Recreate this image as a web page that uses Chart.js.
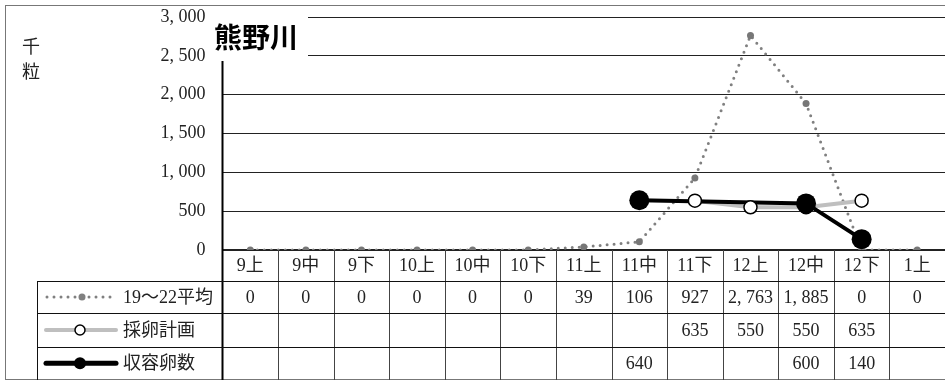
<!DOCTYPE html>
<html>
<head>
<meta charset="utf-8">
<script src="https://cdn.jsdelivr.net/npm/chart.js@4/dist/chart.umd.min.js"></script>
<style>
    html, body { margin: 0; padding: 0; background: #fff; overflow: hidden; }
    #wrap { width: 945px; height: 381px; overflow: hidden; position: relative; }
</style>
</head>
<body>
<div id="wrap">
    <canvas id="kumano-chart" width="955" height="381" style="width:955px;height:381px"></canvas>
</div>
<script>
const categories = ['9上', '9中', '9下', '10上', '10中', '10下', '11上', '11中', '11下', '12上', '12中', '12下', '1上'];
const avgValues = [0, 0, 0, 0, 0, 0, 39, 106, 927, 2763, 1885, 0, 0];
const planValues = [null, null, null, null, null, null, null, null, 635, 550, 550, 635, null];
const recvValues = [null, null, null, null, null, null, null, 640, null, null, 600, 140, null];
const seriesNames = ['19～22平均', '採卵計画', '収容卵数'];
const yTicks = [0, 500, 1000, 1500, 2000, 2500, 3000];
const title = '熊野川';
const unitLabel = ['千', '粒'];

const SERIF = '"Liberation Serif", "Noto Sans CJK JP", serif';
const GRAY = '#808080';
const LIGHT = '#bfbfbf';

function fmt(v) {
    return v.toLocaleString('en-US').replace(/,/g, ', ');
}

// table row bounds under the plot
const rowHeader = [250, 281];
const rows = [[281, 313], [313, 347], [347, 379.5]];
const legendLeft = 37;

const tablePlugin = {
    id: 'tablePlugin',
    afterDraw(chart) {
        const ctx = chart.ctx;
        const x = chart.scales.x;
        const area = chart.chartArea;
        const w = (area.right - area.left) / categories.length;
        ctx.save();

        // outer frame
        ctx.strokeStyle = '#777';
        ctx.lineWidth = 1;
        ctx.strokeRect(5.5, 5.5, 950, 374);

        // title box over gridlines
        ctx.fillStyle = '#fff';
        ctx.fillRect(209, 6, 99, 55);
        ctx.fillStyle = '#000';
        ctx.font = 'bold 28px "Noto Sans CJK JP"';
        ctx.textAlign = 'left';
        ctx.textBaseline = 'middle';
        ctx.fillText(title, 214, 37);

        // unit label
        ctx.font = '18px "Noto Sans CJK JP"';
        ctx.textAlign = 'center';
        ctx.fillStyle = '#222';
        ctx.fillText(unitLabel[0], 31, 46);
        ctx.fillText(unitLabel[1], 31, 71);

        // y axis line
        ctx.strokeStyle = '#000';
        ctx.lineWidth = 2;
        ctx.beginPath();
        ctx.moveTo(area.left, 61);
        ctx.lineTo(area.left, 380);
        ctx.stroke();

        // column separators
        ctx.strokeStyle = '#444';
        ctx.lineWidth = 1;
        for (let i = 1; i <= categories.length; i++) {
            const px = Math.round(x.getPixelForValue(i) - w / 2) + 0.5;
            ctx.beginPath();
            ctx.moveTo(px, rowHeader[0]);
            ctx.lineTo(px, 380);
            ctx.stroke();
        }

        // row lines
        ctx.strokeStyle = '#111';
        [rows[0][0], rows[1][0], rows[2][0]].forEach(y => {
            ctx.beginPath();
            ctx.moveTo(legendLeft, Math.round(y) + 0.5);
            ctx.lineTo(955, Math.round(y) + 0.5);
            ctx.stroke();
        });
        ctx.beginPath();
        ctx.moveTo(legendLeft + 0.5, rows[0][0]);
        ctx.lineTo(legendLeft + 0.5, 380);
        ctx.stroke();

        // header labels
        ctx.fillStyle = '#222';
        ctx.font = '18px ' + SERIF;
        ctx.textAlign = 'center';
        ctx.textBaseline = 'middle';
        categories.forEach((c, i) => {
            ctx.fillText(c, x.getPixelForValue(i), (rowHeader[0] + rowHeader[1]) / 2 + 1);
        });

        // values
        [avgValues, planValues, recvValues].forEach((arr, r) => {
            const cy = (rows[r][0] + rows[r][1]) / 2 + 1;
            arr.forEach((v, i) => {
                if (v === null) return;
                ctx.fillText(fmt(v), x.getPixelForValue(i), cy);
            });
        });

        // legend keys
        ctx.lineCap = 'round';
        let cy = (rows[0][0] + rows[0][1]) / 2;
        ctx.setLineDash([0, 7]);
        ctx.strokeStyle = GRAY;
        ctx.lineWidth = 3;
        ctx.beginPath();
        ctx.moveTo(47, cy);
        ctx.lineTo(116, cy);
        ctx.stroke();
        ctx.setLineDash([]);
        ctx.fillStyle = GRAY;
        ctx.beginPath();
        ctx.arc(82, cy, 3.5, 0, Math.PI * 2);
        ctx.fill();

        cy = (rows[1][0] + rows[1][1]) / 2;
        ctx.strokeStyle = LIGHT;
        ctx.lineWidth = 4;
        ctx.beginPath();
        ctx.moveTo(46, cy);
        ctx.lineTo(116, cy);
        ctx.stroke();
        ctx.fillStyle = '#fff';
        ctx.strokeStyle = '#000';
        ctx.lineWidth = 1.5;
        ctx.beginPath();
        ctx.arc(80, cy, 5, 0, Math.PI * 2);
        ctx.fill();
        ctx.stroke();

        cy = (rows[2][0] + rows[2][1]) / 2;
        ctx.strokeStyle = '#000';
        ctx.lineWidth = 5;
        ctx.beginPath();
        ctx.moveTo(46, cy);
        ctx.lineTo(116, cy);
        ctx.stroke();
        ctx.fillStyle = '#000';
        ctx.beginPath();
        ctx.arc(80, cy, 6, 0, Math.PI * 2);
        ctx.fill();

        ctx.fillStyle = '#222';
        ctx.font = '18px ' + SERIF;
        ctx.textAlign = 'left';
        seriesNames.forEach((n, r) => {
            ctx.fillText(n, 123, (rows[r][0] + rows[r][1]) / 2 + 1);
        });

        ctx.restore();
    }
};

const data = {
    labels: categories,
    datasets: [
        // markers drawn above all lines (lower order = on top)
        {data: recvValues, order: 0, showLine: false, pointRadius: 10, pointBackgroundColor: '#000', pointBorderColor: '#000', pointBorderWidth: 0},
        {data: planValues, order: 1, showLine: false, pointRadius: 6.5, pointBackgroundColor: '#fff', pointBorderColor: '#000', pointBorderWidth: 1.5},
        {data: avgValues, order: 2, showLine: false, pointRadius: 3.5, pointBackgroundColor: '#777', pointBorderColor: '#777', pointBorderWidth: 0},
        {data: recvValues, order: 3, borderColor: '#000', borderWidth: 4, pointRadius: 0, spanGaps: true, fill: false, tension: 0},
        {data: planValues, order: 4, borderColor: LIGHT, borderWidth: 4, pointRadius: 0, spanGaps: true, fill: false, tension: 0},
        {data: avgValues, order: 5, borderColor: GRAY, borderWidth: 3, borderDash: [0, 7], borderCapStyle: 'round', pointRadius: 0, fill: false, tension: 0}
    ]
};

const config = {
    type: 'line',
    data: data,
    options: {
        responsive: false,
        animation: false,
        devicePixelRatio: 1,
        layout: {
            padding: {left: 0, top: 17, right: 2.5, bottom: 131}
        },
        plugins: {
            legend: {display: false},
            tooltip: {enabled: false}
        },
        scales: {
            x: {
                display: false,
                offset: true
            },
            y: {
                min: 0,
                max: 3000,
                afterFit: (scale) => {
                    scale.width = 222.5;
                    scale.paddingTop = 0;
                    scale.paddingBottom = 0;
                },
                afterBuildTicks: (scale) => { scale.ticks = yTicks.map(v => ({value: v})); },
                border: {display: false},
                grid: {
                    drawTicks: false,
                    color: '#222',
                    lineWidth: (c) => c.tick && c.tick.value === 0 ? 2 : 1
                },
                ticks: {
                    padding: 17,
                    color: '#222',
                    font: {family: SERIF, size: 18},
                    callback: (v) => fmt(v)
                }
            }
        }
    },
    plugins: [tablePlugin]
};

const ctx = document.getElementById('kumano-chart').getContext('2d');
window.kumanoChart = new Chart(ctx, config);
</script>
</body>
</html>
